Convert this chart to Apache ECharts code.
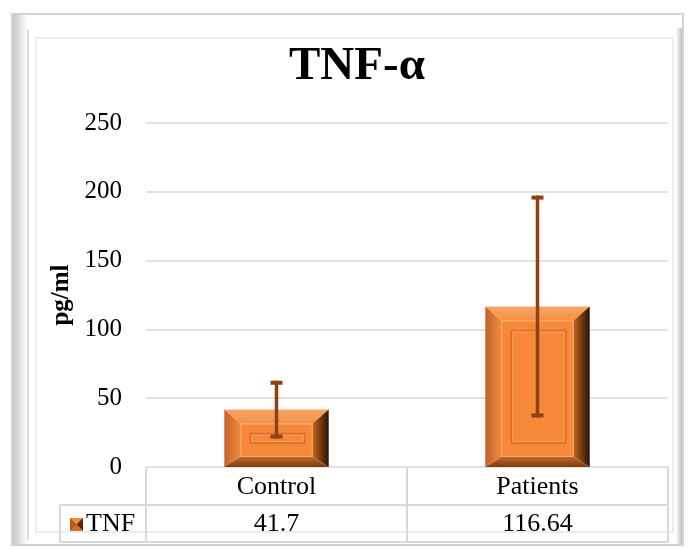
<!DOCTYPE html>
<html>
<head>
<meta charset="utf-8">
<script src="https://cdn.jsdelivr.net/npm/echarts@6/dist/echarts.min.js"></script>
<style>
html,body{margin:0;padding:0;background:#fff;}
#main{width:688px;height:548px;}
</style>
</head>
<body>
<div id="main"></div>
<script>
// ---- data ----
const titleText = 'TNF-α';
const yAxisName = 'pg/ml';
const categories = ['Control', 'Patients'];
const seriesName = 'TNF';
const meanValues = [41.7, 116.64];
const sdValues = [21.0, 80.6];
const valueLabels = ['41.7', '116.64'];
const yTicks = [0, 50, 100, 150, 200, 250];

const FONT = '"Liberation Serif","Times New Roman",serif';
const chart = echarts.init(document.getElementById('main'), null, {renderer: 'canvas'});

function lg(x, y, x2, y2, c1, c2) {
  return new echarts.graphic.LinearGradient(x, y, x2, y2, [{offset: 0, color: c1}, {offset: 1, color: c2}]);
}

function renderBar(params, api) {
  const xi = api.value(0), v = api.value(1);
  const top = api.coord([xi, v]);
  const base = api.coord([xi, 0]);
  const bw = api.size([1, 0])[0] * 0.4;
  const l = top[0] - bw / 2, r = top[0] + bw / 2, t = top[1], b = base[1];
  const bx = 16, bt = 14, bb = 10;
  const il = l + bx, ir = r - bx, it = t + bt, ib = b - bb;
  const children = [
    {type: 'rect', shape: {x: il, y: it, width: ir - il, height: ib - it}, style: {fill: '#f7883a'}},
    {type: 'polygon', shape: {points: [[l, t], [r, t], [ir, it], [il, it]]}, style: {fill: lg(0, 0, 0, 1, '#f7a665', '#f39047')}},
    {type: 'polygon', shape: {points: [[l, t], [il, it], [il, ib], [l, b]]}, style: {fill: lg(0, 0, 1, 0, '#c4622a', '#ef8a3f')}},
    {type: 'polygon', shape: {points: [[r, t], [r, b], [ir, ib], [ir, it]]}, style: {fill: lg(0, 0, 1, 0, '#c2621f', '#2a1304')}},
    {type: 'polygon', shape: {points: [[l, b], [r, b], [ir, ib], [il, ib]]}, style: {fill: lg(0, 0, 0, 1, '#c0662a', '#7a3c10')}},
    {type: 'rect', shape: {x: il + 0.5, y: it + 0.5, width: ir - il - 1, height: ib - it - 1}, style: {fill: 'none', stroke: '#f9a868', lineWidth: 1}},
    {type: 'rect', shape: {x: il + 10, y: it + 10, width: ir - il - 18, height: Math.max(6, ib - it - 24)}, style: {fill: 'none', stroke: '#d2702c', lineWidth: 1.5}},
    {type: 'rect', shape: {x: il + 11.5, y: it + 11.5, width: ir - il - 21, height: Math.max(3, ib - it - 27)}, style: {fill: 'none', stroke: '#fa9b55', lineWidth: 1}}
  ];
  return {type: 'group', children: children};
}

function renderErr(params, api) {
  const xi = api.value(0), m = api.value(1), s = api.value(2);
  const hi = api.coord([xi, m + s]);
  const lo = api.coord([xi, m - s]);
  const c = '#8e420f';
  const cw = 12, ch = 4;
  return {type: 'group', children: [
    {type: 'line', shape: {x1: hi[0], y1: hi[1], x2: lo[0], y2: lo[1]}, style: {stroke: c, lineWidth: 3.5}},
    {type: 'rect', shape: {x: hi[0] - cw / 2, y: hi[1], width: cw, height: ch}, style: {fill: c}},
    {type: 'rect', shape: {x: lo[0] - cw / 2, y: lo[1] - ch, width: cw, height: ch}, style: {fill: c}}
  ]};
}

const option = {
  backgroundColor: '#ffffff',
  animation: false,
  title: {
    text: titleText, left: 284, top: 38,
    textStyle: {fontFamily: FONT, fontSize: 47, fontWeight: 'bold', color: '#000'}
  },
  grid: {left: 146, right: 20, top: 123, bottom: 81},
  xAxis: {
    type: 'category', data: categories,
    axisLine: {show: false}, axisTick: {show: false}, axisLabel: {show: false}
  },
  yAxis: {
    type: 'value', min: yTicks[0], max: yTicks[yTicks.length - 1], interval: 50,
    name: yAxisName, nameLocation: 'middle', nameGap: 70, nameRotate: 90,
    nameTextStyle: {fontFamily: FONT, fontSize: 25, fontWeight: 'bold', color: '#000'},
    axisLine: {show: false}, axisTick: {show: false},
    axisLabel: {fontFamily: FONT, fontSize: 25, color: '#000', margin: 24},
    splitLine: {lineStyle: {color: '#d9d9d9', width: 1.5}}
  },
  series: [
    {type: 'custom', name: seriesName, renderItem: renderBar,
     data: meanValues.map((v, i) => [i, v]), z: 2},
    {type: 'custom', name: seriesName + ' SD', renderItem: renderErr,
     data: meanValues.map((v, i) => [i, v, sdValues[i]]), z: 3}
  ]
};
chart.setOption(option);

// ---- frame, data table ----
const cx = categories.map((c, i) => chart.convertToPixel({xAxisIndex: 0}, i));
const band = categories.length > 1 ? cx[1] - cx[0] : 260;
const y0 = chart.convertToPixel({yAxisIndex: 0}, 0);
const gl = cx[0] - band / 2, gr = cx[cx.length - 1] + band / 2;
const row1 = y0 + 38, row2 = y0 + 75;
const tableLeft = 60;
const lc = '#d9d9d9';
const g = [];
// outer frame
g.push({type: 'rect', shape: {x: 12, y: 14, width: 671, height: 531}, style: {fill: 'none', stroke: '#d2d2d2', lineWidth: 2}, z: 0});
g.push({type: 'rect', shape: {x: 13, y: 15, width: 14, height: 529}, style: {fill: lg(0, 0, 1, 0, '#c4c4c4', '#ffffff')}, z: 0});
g.push({type: 'line', shape: {x1: 28, y1: 30, x2: 28, y2: 540}, style: {stroke: '#d0d0d0', lineWidth: 1.5}, z: 0});
g.push({type: 'rect', shape: {x: 676, y: 28, width: 6, height: 516}, style: {fill: lg(0, 0, 1, 0, '#ffffff', '#bdbdbd')}, z: 0});
g.push({type: 'rect', shape: {x: 36, y: 38, width: 637, height: 494}, style: {fill: 'none', stroke: '#e6e6e6', lineWidth: 1.5}, z: 0});
// table lines
[gl, cx[0] + band / 2, gr].forEach(x => g.push({type: 'line', shape: {x1: x, y1: y0, x2: x, y2: row2}, style: {stroke: lc, lineWidth: 2}}));
g.push({type: 'line', shape: {x1: tableLeft, y1: row1, x2: tableLeft, y2: row2}, style: {stroke: lc, lineWidth: 2}});
g.push({type: 'line', shape: {x1: tableLeft, y1: row1, x2: gr, y2: row1}, style: {stroke: lc, lineWidth: 2}});
g.push({type: 'line', shape: {x1: tableLeft, y1: row2, x2: gr, y2: row2}, style: {stroke: lc, lineWidth: 2}});
// header and values
categories.forEach((c, i) => {
  g.push({type: 'text', style: {text: c, x: cx[i], y: (y0 + row1) / 2 + 1, align: 'center', verticalAlign: 'middle', font: '26px ' + FONT, fill: '#000'}});
  g.push({type: 'text', style: {text: valueLabels[i], x: cx[i], y: (row1 + row2) / 2 + 1, align: 'center', verticalAlign: 'middle', font: '26px ' + FONT, fill: '#000'}});
});
// legend key
const kx = 70, ky = row1 + 13, ks = 13;
g.push({type: 'rect', shape: {x: kx, y: ky, width: ks, height: ks}, style: {fill: '#f28a3d'}});
g.push({type: 'polygon', shape: {points: [[kx, ky], [kx + ks / 2, ky + ks / 2], [kx, ky + ks]]}, style: {fill: '#b35a1c'}});
g.push({type: 'polygon', shape: {points: [[kx + ks, ky], [kx + ks / 2, ky + ks / 2], [kx + ks, ky + ks]]}, style: {fill: '#5a2a08'}});
g.push({type: 'polygon', shape: {points: [[kx, ky + ks], [kx + ks / 2, ky + ks / 2], [kx + ks, ky + ks]]}, style: {fill: '#c9702f'}});
g.push({type: 'text', style: {text: seriesName, x: kx + ks + 3, y: (row1 + row2) / 2 + 1, align: 'left', verticalAlign: 'middle', font: '26px ' + FONT, fill: '#000'}});

chart.setOption({graphic: {elements: g}});
</script>
</body>
</html>
